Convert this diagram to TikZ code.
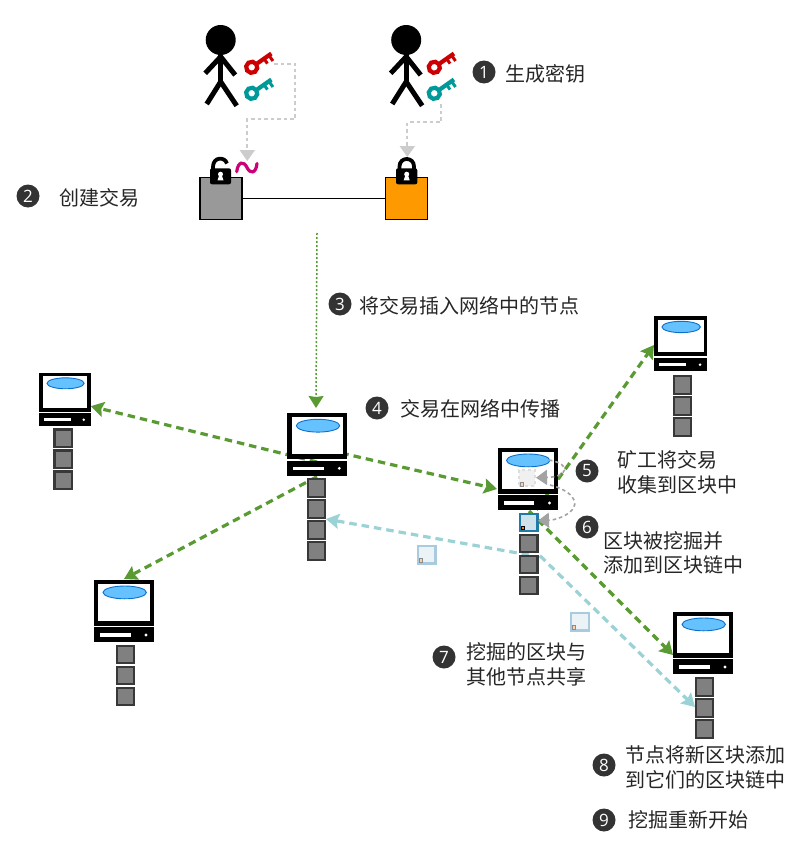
\documentclass[tikz,border=0pt]{standalone}
\usepackage{fontspec}
\newfontfamily\cjk{Noto Sans CJK SC}
\newfontfamily\numfont{Open Sans}
\usetikzlibrary{arrows.meta}
\definecolor{netgreen}{HTML}{5A9A32}
\definecolor{shareteal}{HTML}{9BD2D6}
\definecolor{keyred}{HTML}{CC0000}
\definecolor{keyteal}{HTML}{009999}
\definecolor{sigmag}{HTML}{CC0077}
\definecolor{lightline}{HTML}{CCCCCC}
\definecolor{minegray}{HTML}{A3A3A3}
\definecolor{screenblue}{HTML}{66C2FF}
\definecolor{screenedge}{HTML}{0B6FCC}
\definecolor{minededge}{HTML}{1F7AA8}
\definecolor{minedfill}{HTML}{CFE2EC}
\definecolor{sentedge}{HTML}{A9CBE0}
\definecolor{sentfill}{HTML}{ECF3F7}
\tikzset{
  greenlink/.style={draw=netgreen,line width=3.2pt,dash pattern=on 7.5pt off 5pt,
    -{Stealth[length=13pt,width=15pt,inset=2pt,fill=netgreen,sep=0pt]}},
  teallink/.style={draw=shareteal,line width=3.2pt,dash pattern=on 7.5pt off 5pt,
    -{Stealth[length=13pt,width=15pt,inset=2pt,fill=shareteal,sep=0pt]}},
  keylink/.style={draw=lightline,line width=2pt,dash pattern=on 3.5pt off 3pt,
    -{Triangle[length=11pt,width=15pt,fill=lightline]}},
  minelink/.style={draw=minegray,line width=1.6pt,dash pattern=on 3.5pt off 3pt,
    -{Triangle[length=11pt,width=15pt,fill=minegray]}},
  blockn/.style={draw=black!78,fill=black!50,line width=2.4pt,minimum size=17.5pt,inner sep=0pt,outer sep=0pt},
  minedblock/.style={draw=minededge,fill=minedfill,line width=2.4pt,minimum size=17.5pt,inner sep=0pt},
  sentblock/.style={draw=sentedge,fill=sentfill,line width=2.4pt,minimum size=17.5pt,inner sep=0pt},
  tinytx/.style={draw=black!45,fill=orange!35,line width=.6pt,minimum size=3.5pt,inner sep=0pt},
  numdot/.style={circle,fill=black!80,minimum size=23pt,inner sep=0pt,text=white,font=\numfont\fontsize{17}{17}\selectfont},
  label/.style={anchor=west,inner sep=0pt,align=left,text=black!85,font=\cjk\fontsize{20}{24.5}\selectfont},
  square/.style={draw=black,line width=1.4pt,minimum size=42pt,inner sep=0pt},
  pics/computer/.style={code={
    \fill[black] (0,0) rectangle (60,45.7);
    \fill[white] (4.4,4) rectangle (56,41);
    \filldraw[fill=screenblue,draw=screenedge,line width=.9pt] (30.7,12.4) ellipse [x radius=21.7,y radius=6.4];
    \fill[black] (0,47.4) rectangle (60,62.4);
    \fill[white] (6,53.4) rectangle (36.7,56.7);
    \fill[white] (52,55) circle [radius=1.6];
  }},
  pics/keyicon/.style={code={
    \draw[#1,line width=4.2pt] (0,0) circle [radius=5.6];
    \draw[#1,line width=4.2pt] (7,0) -- (24,0);
    \draw[#1,line width=3pt] (15,0) -- (15,6);
    \draw[#1,line width=3pt] (21,0) -- (21,7);
  }},
  pics/person/.style={code={
    \fill[black] (0,0) circle [radius=15];
    \draw[black,line width=5pt] (0,10) -- (0,41.7);
    \draw[black,line width=5pt] (-15.5,33.3) -- (0,16.7) -- (14.5,35);
    \draw[black,line width=5pt] (-14,64) -- (0,41.7) -- (16,65.7);
  }},
  pics/keyhole/.style={code={
    \fill[white] (0,-2.3) circle [radius=2.5];
    \fill[white] (-1.2,-1.5) -- (1.2,-1.5) -- (3,3.8) -- (-3,3.8) -- cycle;
  }},
}
\begin{document}
\begin{tikzpicture}[x=1pt,y=-1pt]
\useasboundingbox (0,0) rectangle (800,851);
\fill[white] (0,0) rectangle (800,851);

% connector ends
\coordinate (txout) at (317,233);
\coordinate (hubin) at (316,408);
\coordinate (hubC) at (317,462);
\coordinate (hubR) at (317,447.4);
\coordinate (hubB) at (317,476.7);
\coordinate (leftA) at (90.7,406.2);
\coordinate (leftB) at (124,579);
\coordinate (minerIn) at (497,489);
\coordinate (minerOut) at (529,520);
\coordinate (minerOutB) at (529,511);
\coordinate (shareS) at (529,555);
\coordinate (shareT) at (531,547);
\coordinate (hubBlock) at (326,519);
\coordinate (topE) at (654,345);
\coordinate (botF) at (673,655);
\coordinate (botBlock) at (695,707);
\coordinate (redA) at (274,64);
\coordinate (tealB) at (440.7,104);
\coordinate (sigGoal) at (247.3,161);
\coordinate (lockGoal) at (407.3,157);
\coordinate (gather1) at (549,460);
\coordinate (gather2) at (536,477.7);
\coordinate (add1) at (550,485);
\coordinate (add2) at (538,520.7);

% network connectors
\draw[greenlink] (hubC) -- (leftA);
\draw[greenlink] (hubR) -- (minerIn);
\draw[greenlink] (hubB) -- (leftB);
\draw[greenlink] (minerOut) -- (topE);
\draw[greenlink] (minerOutB) -- (botF);
\draw[teallink] (shareS) -- (hubBlock);
\draw[teallink] (shareT) -- (botBlock);
\draw[draw=netgreen,line width=1.5pt,dash pattern=on 2pt off 2pt,
  -{Stealth[length=12pt,width=15pt,inset=1pt,fill=netgreen]}] (txout) -- (hubin);

% people
\pic at (220.7,40) {person};
\pic at (406.2,40) {person};
\pic[rotate=35] at (251.7,67.3) {keyicon=keyred};
\pic[rotate=35] at (251.7,93.3) {keyicon=keyteal};
\pic[rotate=35] at (434.3,67.3) {keyicon=keyred};
\pic[rotate=35] at (434.3,93.3) {keyicon=keyteal};

% transaction
\node[square,fill=black!40] (txA) at (221,198.3) {};
\node[square,fill=orange!80!yellow] (txB) at (406.5,198.3) {};
\draw[black,line width=1.5pt] (txA) -- (txB);
\draw[keylink] (redA) -| (295.3,119) -| (sigGoal);
\draw[keylink] (tealB) |- (407.3,122.3) -- (lockGoal);

% open lock
\draw[black,line width=3.8pt] (213,171) -- (213,167) .. controls (213,156.5) and (225,156.5) .. (227,163.5);
\fill[black,rounded corners=2pt] (210,168.3) rectangle (231,184.3);
\pic at (220.5,176.5) {keyhole};
% closed lock
\draw[black,line width=3.8pt] (399.5,171) -- (399.5,166.5) .. controls (399.5,156.5) and (414,156.5) .. (414,166.5) -- (414,171);
\fill[black,rounded corners=2pt] (396,168.3) rectangle (417.3,184.3);
\pic at (406.7,176.5) {keyhole};
% signature
\draw[sigmag,line width=3.2pt,line cap=round] (236.7,171.7) .. controls (238,161) and (244,161) .. (247,167.5) .. controls (250,174) and (256,174) .. (257,163.5);

% computers
\pic[scale=.855] at (39.3,372.7) {computer};
\pic at (94,580) {computer};
\pic at (287.3,413.3) {computer};
\pic at (497.5,448) {computer};
\pic[scale=.885] at (654,316) {computer};
\pic at (673,612) {computer};

% chains
\node[blockn] (a1) at (63.3,438.3) {};
\node[blockn] (a2) at (63.3,459.3) {};
\node[blockn] (a3) at (63.3,480.3) {};
\node[blockn] (b1) at (125.5,654.5) {};
\node[blockn] (b2) at (125.5,675.5) {};
\node[blockn] (b3) at (125.5,696.5) {};
\node[blockn] (c1) at (316.5,488) {};
\node[blockn] (c2) at (316.5,509) {};
\node[blockn] (c3) at (316.5,530) {};
\node[blockn] (c4) at (316.5,551) {};
\node[minedblock] (d0) at (528.7,522.5) {};
\node[tinytx,draw=black,fill=orange,line width=.8pt] (d0tx) at (523,528) {};
\node[blockn] (d1) at (528.7,543.5) {};
\node[blockn] (d2) at (528.7,564.5) {};
\node[blockn] (d3) at (528.7,585.5) {};
\node[blockn] (e1) at (682.5,385) {};
\node[blockn] (e2) at (682.5,406) {};
\node[blockn] (e3) at (682.5,427) {};
\node[blockn] (f1) at (704.5,687) {};
\node[blockn] (f2) at (704.5,708) {};
\node[blockn] (f3) at (704.5,729) {};

% block in travel
\node[sentblock] (s1) at (426.7,554.7) {};
\node[tinytx] (s1tx) at (420.7,560.3) {};
\node[sentblock] (s2) at (580,621.7) {};
\node[tinytx] (s2tx) at (574,627.3) {};

% gathering of the transaction
\node[draw=black!13,fill=black!6,line width=2.2pt,dashed,minimum size=16pt,inner sep=0pt] (ghost) at (526.7,478) {};
\node[tinytx] (ghosttx) at (522,484.5) {};
\draw[minelink] (gather1) .. controls (572,464) and (568,477) .. (gather2);
\draw[minelink] (add1) .. controls (570,490) and (582,502) .. (570,512) .. controls (564,517) and (555,520) .. (add2);

% numbered steps
\node[numdot] (n1) at (484,72) {1};
\node[label] (t1) at (505,74) {生成密钥};
\node[numdot] (n2) at (28,196) {2};
\node[label] (t2) at (59,198) {创建交易};
\node[numdot] (n3) at (340,304) {3};
\node[label] (t3) at (359,306) {将交易插入网络中的节点};
\node[numdot] (n4) at (377,408) {4};
\node[label] (t4) at (400,409) {交易在网络中传播};
\node[numdot] (n5) at (587,471) {5};
\node[label] (t5) at (617,472.5) {矿工将交易\\收集到区块中};
\node[numdot] (n6) at (587,527) {6};
\node[label] (t6) at (603,553) {区块被挖掘并\\添加到区块链中};
\node[numdot] (n7) at (444,657) {7};
\node[label] (t7) at (466,664.5) {挖掘的区块与\\其他节点共享};
\node[numdot] (n8) at (604,765) {8};
\node[label] (t8) at (625,767.5) {节点将新区块添加\\到它们的区块链中};
\node[numdot] (n9) at (604,820) {9};
\node[label] (t9) at (628,820) {挖掘重新开始};
\end{tikzpicture}
\end{document}
